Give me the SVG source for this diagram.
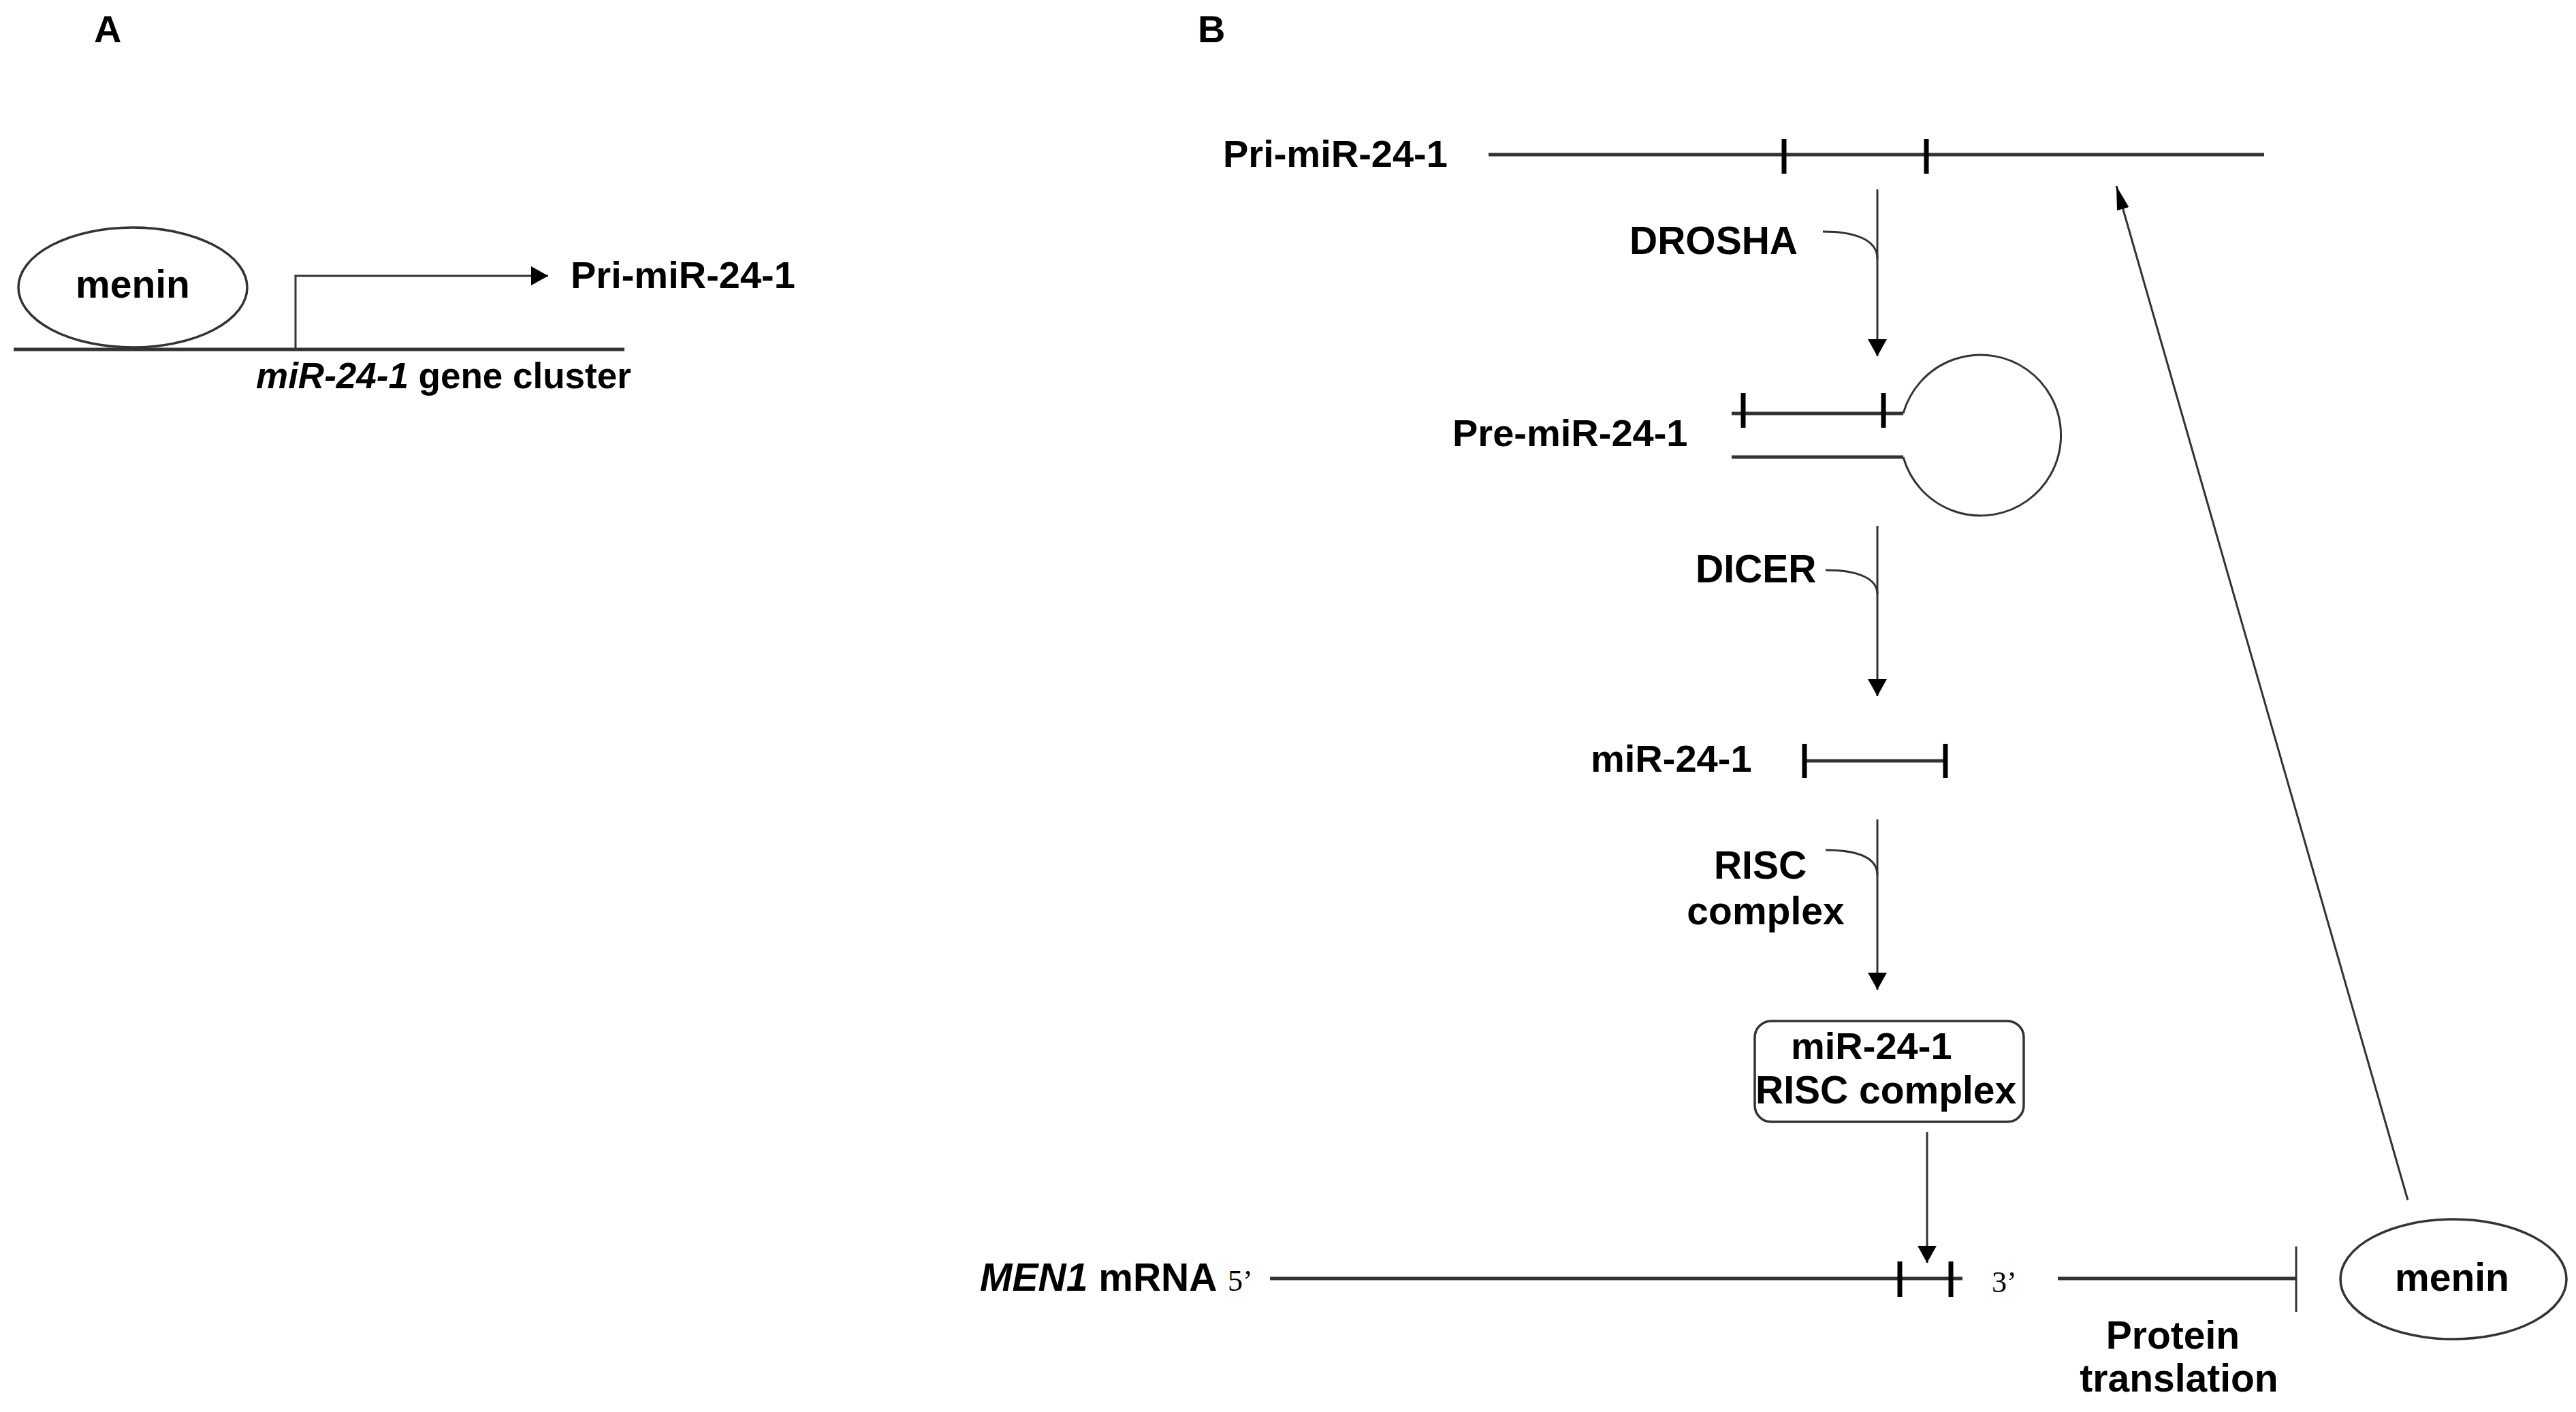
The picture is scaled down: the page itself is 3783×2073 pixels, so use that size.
<svg xmlns="http://www.w3.org/2000/svg" width="3783" height="2073" viewBox="0 0 3783 2073">
<style>
  text { font-family: "Liberation Sans", Arial, sans-serif; font-weight: bold; fill: #000; }
  .serif { font-family: "Liberation Serif", "Times New Roman", serif; font-weight: normal; }
  .strand { stroke: #333; stroke-width: 5; fill: none; }
  .tick { stroke: #000; stroke-width: 7; }
  .conn { stroke: #333; stroke-width: 3; fill: none; }
  .shape { stroke: #333; stroke-width: 3.5; fill: #fff; }
</style>
<defs>
  <marker id="ah" markerUnits="userSpaceOnUse" markerWidth="26" markerHeight="28" refX="25" refY="14" orient="auto">
    <path d="M0,0 L25,14 L0,28 z" fill="#000"/>
  </marker>
  <marker id="ahn" markerUnits="userSpaceOnUse" markerWidth="36" markerHeight="18" refX="35" refY="9" orient="auto">
    <path d="M0,0 L35,9 L0,18 z" fill="#000"/>
  </marker>
</defs>
<rect width="3783" height="2073" fill="#fff"/>

<!-- Panel labels -->
<text id="label-A" x="138" y="62" font-size="56">A</text>
<text id="label-B" x="1759" y="62" font-size="56">B</text>

<!-- Panel A -->
<g id="gene-cluster">
  <line class="strand" x1="20" y1="513" x2="917" y2="513"/>
  <text x="376" y="570" font-size="53"><tspan font-style="italic">miR-24-1</tspan> gene cluster</text>
</g>
<g id="menin-A">
  <ellipse class="shape" cx="195" cy="422" rx="168" ry="88"/>
  <text x="195" y="437" font-size="57" text-anchor="middle">menin</text>
</g>
<g id="pri-A">
  <text x="838" y="423" font-size="56">Pri-miR-24-1</text>
</g>

<!-- Panel B nodes -->
<g id="pri-B">
  <text x="1796" y="245" font-size="56">Pri-miR-24-1</text>
  <line class="strand" x1="2186" y1="227" x2="3325" y2="227"/>
  <line class="tick" x1="2620" y1="204" x2="2620" y2="255"/>
  <line class="tick" x1="2829" y1="204" x2="2829" y2="255"/>
</g>
<g id="drosha">
  <text x="2393" y="373" font-size="57">DROSHA</text>
</g>
<g id="pre-B">
  <text x="2133" y="655" font-size="56">Pre-miR-24-1</text>
  <line class="strand" x1="2543" y1="607" x2="2795" y2="607"/>
  <line class="strand" x1="2543" y1="671" x2="2795" y2="671"/>
  <line class="tick" x1="2560" y1="577" x2="2560" y2="628"/>
  <line class="tick" x1="2766" y1="577" x2="2766" y2="628"/>
  <path class="conn" d="M2795,607 A118,118 0 1 1 2795,671"/>
</g>
<g id="dicer">
  <text x="2490" y="855" font-size="57">DICER</text>
</g>
<g id="mir-B">
  <text x="2336" y="1133" font-size="56">miR-24-1</text>
  <line class="strand" x1="2650" y1="1117" x2="2857" y2="1117"/>
  <line class="tick" x1="2650" y1="1092" x2="2650" y2="1142"/>
  <line class="tick" x1="2857" y1="1092" x2="2857" y2="1142"/>
</g>
<g id="risc">
  <text x="2585" y="1290" font-size="57" text-anchor="middle">RISC</text>
  <text x="2593" y="1357" font-size="57" text-anchor="middle">complex</text>
</g>
<g id="mir-risc-box">
  <rect class="shape" x="2577" y="1499" width="395" height="148" rx="24"/>
  <text x="2630" y="1555" font-size="56">miR-24-1</text>
  <text x="2578" y="1620" font-size="57">RISC complex</text>
</g>
<g id="men1-mrna">
  <text x="1439" y="1895" font-size="57"><tspan font-style="italic">MEN1</tspan> mRNA</text>
  <text class="serif" x="1803" y="1895" font-size="44">5’</text>
  <line class="strand" x1="1865" y1="1877" x2="2882" y2="1877"/>
  <line class="tick" x1="2790" y1="1852" x2="2790" y2="1904"/>
  <line class="tick" x1="2865" y1="1852" x2="2865" y2="1904"/>
  <text class="serif" x="2925" y="1897" font-size="44">3’</text>
</g>
<g id="menin-B">
  <ellipse class="shape" cx="3603" cy="1878" rx="166" ry="88"/>
  <text x="3601" y="1895" font-size="57" text-anchor="middle">menin</text>
</g>
<g id="protein-translation">
  <text x="3191" y="1980" font-size="57" text-anchor="middle">Protein</text>
  <text x="3200" y="2043" font-size="57" text-anchor="middle">translation</text>
</g>

<!-- Connectors -->
<g id="connectors">
  <path class="conn" d="M434,513 V405 H805" marker-end="url(#ah)"/>
  <line class="conn" x1="2757" y1="278" x2="2757" y2="523" marker-end="url(#ah)"/>
  <path class="conn" d="M2677,340 C2725,340 2757,352 2757,380"/>
  <line class="conn" x1="2757" y1="772" x2="2757" y2="1022" marker-end="url(#ah)"/>
  <path class="conn" d="M2681,837 C2730,837 2757,850 2757,872"/>
  <line class="conn" x1="2757" y1="1203" x2="2757" y2="1453" marker-end="url(#ah)"/>
  <path class="conn" d="M2681,1248 C2730,1248 2757,1260 2757,1285"/>
  <line class="conn" x1="2830" y1="1662" x2="2830" y2="1854" marker-end="url(#ah)"/>
  <line class="strand" x1="3022" y1="1877" x2="3372" y2="1877"/>
  <line class="conn" x1="3372" y1="1830" x2="3372" y2="1926"/>
  <line class="conn" stroke-width="2.5" x1="3536" y1="1762" x2="3108" y2="273" marker-end="url(#ahn)"/>
</g>
</svg>
